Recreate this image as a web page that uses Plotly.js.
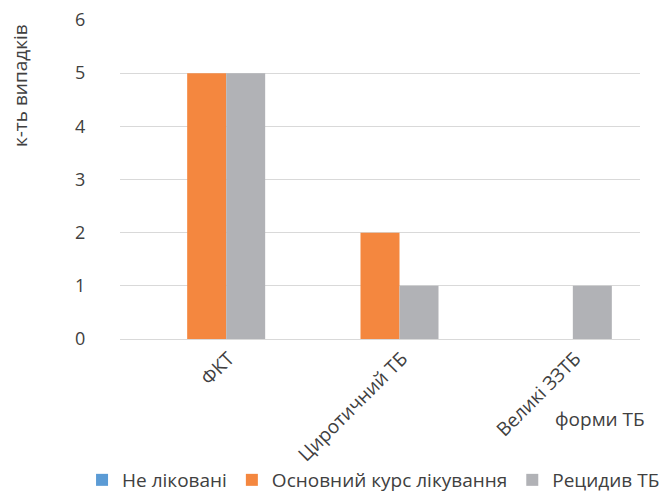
<!DOCTYPE html>
<html>
<head>
<meta charset="utf-8">
<script src="https://cdn.plot.ly/plotly-3.0.1.min.js"></script>
<style>
  html, body { margin: 0; padding: 0; background: #fff; }
  #chart { width: 671px; height: 493px; }
</style>
</head>
<body>
<div id="chart"></div>
<script>
// Forms of TB and number of cases per treatment group
const categories = ['ФКТ', 'Циротичний ТБ', 'Великі ЗЗТБ'];
const untreated = [0, 0, 0];
const mainCourse = [5, 2, 0];
const relapse = [5, 1, 1];
const seriesNames = ['Не ліковані', 'Основний курс лікування', 'Рецидив ТБ'];
const yTicks = [0, 1, 2, 3, 4, 5, 6];

const FONT = '"Open Sans", "DejaVu Sans", sans-serif';
const TEXT = '#404040';
const SIZE = 19;

const traces = [
  { name: seriesNames[0], y: untreated, color: '#5B9BD5' },
  { name: seriesNames[1], y: mainCourse, color: '#F4873F' },
  { name: seriesNames[2], y: relapse, color: '#B1B2B6' }
].map(s => ({
  type: 'bar',
  x: categories,
  y: s.y,
  name: s.name,
  marker: { color: s.color, line: { width: 0 } },
  hoverinfo: 'skip'
}));

const layout = {
  width: 671,
  height: 493,
  margin: { l: 120, r: 31, t: 20, b: 154, pad: 0, autoexpand: false },
  paper_bgcolor: '#fff',
  plot_bgcolor: '#fff',
  font: { family: FONT, size: SIZE, color: TEXT },
  barmode: 'group',
  bargap: 0.325,
  bargroupgap: 0,
  showlegend: true,
  legend: {
    orientation: 'h',
    x: -0.073,
    xanchor: 'left',
    y: -0.442,
    yanchor: 'middle',
    font: { family: FONT, size: SIZE, color: TEXT },
    itemwidth: 30,
    traceorder: 'normal',
    bgcolor: 'rgba(0,0,0,0)'
  },
  xaxis: {
    type: 'category',
    tickangle: -45,
    ticklabelshift: 22,
    automargin: false,
    showgrid: false,
    showline: true,
    linecolor: '#D9D9D9',
    linewidth: 1,
    ticks: '',
    tickfont: { family: FONT, size: SIZE, color: TEXT },
    fixedrange: true
  },
  yaxis: {
    range: [0, 6],
    tickvals: yTicks,
    automargin: false,
    showgrid: true,
    gridcolor: '#D9D9D9',
    gridwidth: 1,
    zeroline: false,
    showline: false,
    ticks: 'outside',
    ticklen: 30,
    tickcolor: 'rgba(0,0,0,0)',
    tickfont: { family: FONT, size: 18, color: TEXT },
    fixedrange: true
  },
  annotations: [
    {
      text: 'к-ть випадків',
      textangle: -90,
      xref: 'paper', yref: 'paper',
      x: -0.191, y: 0.994,
      xanchor: 'center', yanchor: 'top',
      showarrow: false,
      font: { family: FONT, size: SIZE, color: TEXT }
    },
    {
      text: 'форми ТБ',
      xref: 'paper', yref: 'paper',
      x: 1.013, y: -0.25,
      xanchor: 'right', yanchor: 'middle',
      showarrow: false,
      font: { family: FONT, size: SIZE, color: TEXT }
    }
  ]
};

Plotly.newPlot('chart', traces, layout, { displayModeBar: false, staticPlot: true });
</script>
</body>
</html>
